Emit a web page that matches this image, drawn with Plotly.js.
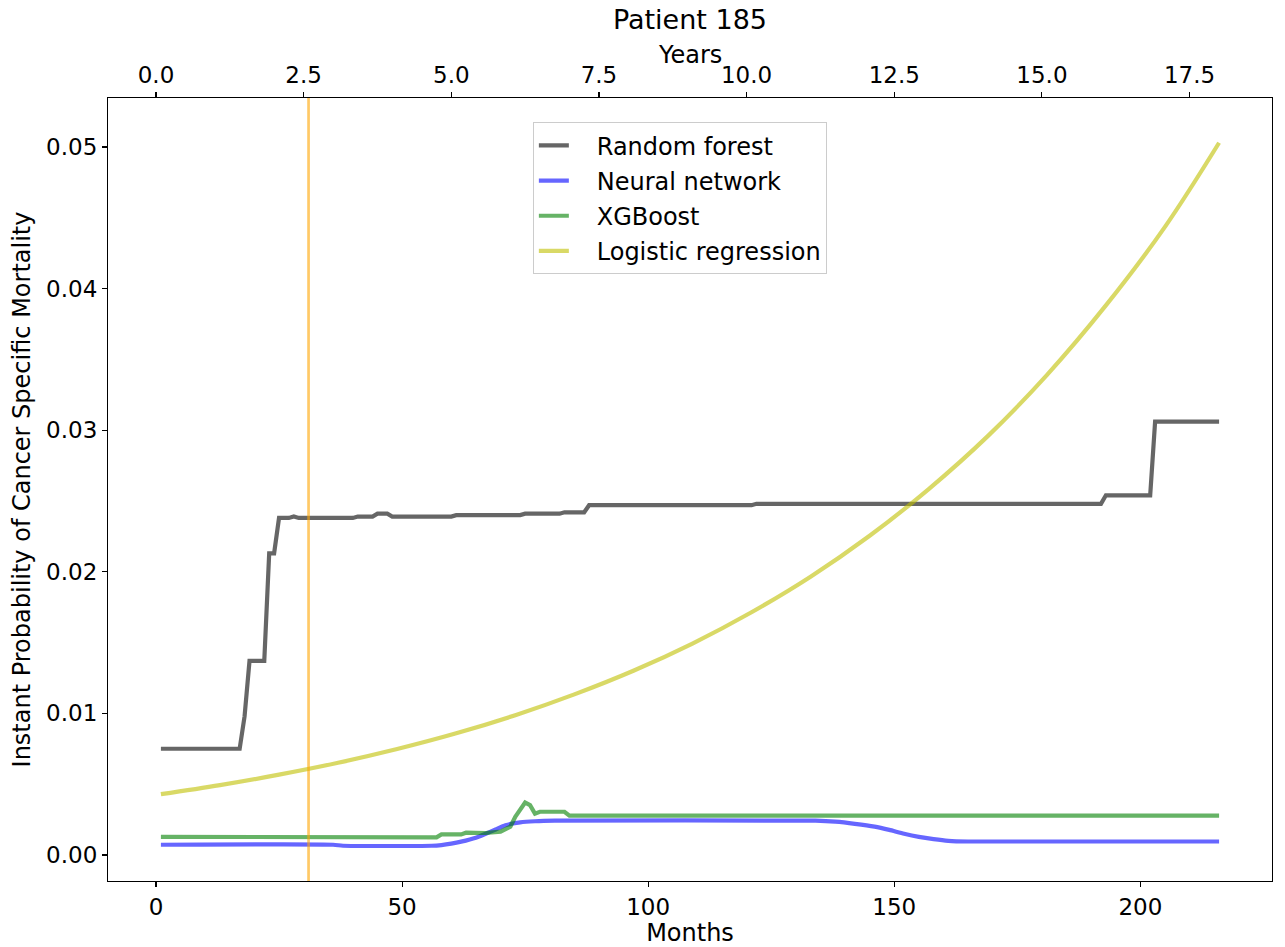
<!DOCTYPE html>
<html>
<head>
<meta charset="utf-8">
<script src="https://cdn.plot.ly/plotly-3.0.1.min.js"></script>
<style>html,body{margin:0;padding:0;background:#fff;}#chart{width:1285px;height:947px;}</style>
</head>
<body>
<div id="chart"></div>
<script>
// ---- data (months since diagnosis) ----
const rfMonths = [1, 17, 18, 19, 22, 23, 24, 25, 27, 28, 29, 40, 41, 44, 45, 47, 48, 60, 61, 74, 75, 82, 83, 87, 88, 121, 122, 192, 193, 202, 203, 216];
const rfValues = [0.0075, 0.0075, 0.0098, 0.0137, 0.0137, 0.0213, 0.0213, 0.0238, 0.0238, 0.0239, 0.0238, 0.0238, 0.0239, 0.0239, 0.0241, 0.0241, 0.0239, 0.0239, 0.0240, 0.0240, 0.0241, 0.0241, 0.0242, 0.0242, 0.0247, 0.0247, 0.0248, 0.0248, 0.0254, 0.0254, 0.0306, 0.0306];

const nnMonths = [1, 36, 38, 56, 58, 60, 62, 65, 67, 69, 71, 74, 77, 81, 134, 138, 142, 146, 149, 152, 155, 158, 161, 165, 216];
const nnValues = [0.00072, 0.00072, 0.00065, 0.00065, 0.00070, 0.00080, 0.00094, 0.00122, 0.00150, 0.00180, 0.00210, 0.00230, 0.00238, 0.00242, 0.00242, 0.00235, 0.00220, 0.00200, 0.00177, 0.00150, 0.00128, 0.00112, 0.00100, 0.00095, 0.00095];

const xgbMonths = [1, 48, 49, 57, 58, 62, 63, 67, 70, 72, 73, 75, 76, 77, 78, 83, 84, 216];
const xgbValues = [0.00128, 0.00128, 0.00124, 0.00124, 0.00145, 0.00145, 0.00157, 0.00155, 0.00165, 0.00200, 0.00270, 0.00370, 0.00352, 0.00292, 0.00305, 0.00305, 0.00278, 0.00278];

const lrMonths = [1, 13, 25, 37, 49, 61, 73, 85, 97, 109, 121, 133, 145, 157, 169, 181, 193, 205, 216];
const lrValues = [0.00429, 0.00493, 0.00567, 0.00651, 0.00748, 0.00859, 0.00987, 0.01134, 0.01301, 0.01493, 0.01714, 0.01965, 0.02254, 0.02584, 0.02958, 0.03389, 0.03881, 0.04436, 0.05030];

const eventMonth = [31];
const seriesNames = ["Random forest", "Neural network", "XGBoost", "Logistic regression"];
const yearTicks = [0, 2.5, 5, 7.5, 10, 12.5, 15, 17.5];
const monthTicks = [0, 50, 100, 150, 200];
const probTicks = [0, 0.01, 0.02, 0.03, 0.04, 0.05];

const FONT = "DejaVu Sans, sans-serif";
const TICK = 23, LABEL = 24;
const xr = [-9.75, 226.75];
const PAD = "\u00a0\u00a0\u00a0";

const traces = [
  {x: rfMonths, y: rfValues, name: PAD + seriesNames[0], legendgroup: "a", mode: "lines", line: {color: "rgba(0,0,0,0.6)", width: 4.2}},
  {x: nnMonths, y: nnValues, name: PAD + seriesNames[1], legendgroup: "b", mode: "lines", line: {color: "rgba(0,0,255,0.6)", width: 4.2, shape: "spline", smoothing: 0.6}},
  {x: xgbMonths, y: xgbValues, name: PAD + seriesNames[2], legendgroup: "c", mode: "lines", line: {color: "rgba(0,128,0,0.6)", width: 4.2}},
  {x: lrMonths, y: lrValues, name: PAD + seriesNames[3], legendgroup: "d", mode: "lines", line: {color: "rgba(191,191,0,0.6)", width: 4.2, shape: "spline"}},
  {x: [xr[0] / 12, xr[1] / 12], y: [0, 0], xaxis: "x2", yaxis: "y", mode: "lines", line: {color: "rgba(0,0,0,0)", width: 0}, showlegend: false, hoverinfo: "skip"}
];

const axisCommon = {
  showgrid: false, zeroline: false, showline: true, linecolor: "#000", linewidth: 1.1,
  ticks: "outside", ticklen: 5, tickwidth: 1.1, tickcolor: "#000",
  tickfont: {family: FONT, size: TICK, color: "#000"}
};

const layout = {
  width: 1285, height: 947,
  paper_bgcolor: "#fff", plot_bgcolor: "#fff",
  margin: {l: 108, r: 13, t: 98, b: 66},
  font: {family: FONT, color: "#000"},
  title: {text: "Patient 185", font: {family: FONT, size: 27, color: "#000"}, x: 0.5, xref: "paper", y: 0.979, yanchor: "middle"},
  xaxis: Object.assign({}, axisCommon, {
    range: xr, tickvals: monthTicks, ticktext: monthTicks.map(String),
    title: {text: "Months", font: {family: FONT, size: LABEL, color: "#000"}, standoff: 2}
  }),
  xaxis2: Object.assign({}, axisCommon, {
    overlaying: "x", side: "top", anchor: "y",
    range: [xr[0] / 12, xr[1] / 12], tickvals: yearTicks, ticktext: yearTicks.map(v => v.toFixed(1))
  }),
  yaxis: Object.assign({}, axisCommon, {
    range: [-0.00184, 0.05346], tickvals: probTicks, ticktext: probTicks.map(v => v.toFixed(2)),
    mirror: true,
    title: {text: "Instant Probability of Cancer Specific Mortality", font: {family: FONT, size: LABEL, color: "#000"}, standoff: 8}
  }),
  annotations: [{
    text: "Years", xref: "paper", yref: "paper", x: 0.5, y: 1.0555, xanchor: "center", yanchor: "middle",
    showarrow: false, font: {family: FONT, size: LABEL, color: "#000"}
  }],
  showlegend: true,
  legend: {
    x: 0.365, y: 0.969, xanchor: "left", yanchor: "top",
    bgcolor: "rgba(255,255,255,0.85)", bordercolor: "#cccccc", borderwidth: 1,
    font: {family: FONT, size: LABEL, color: "#000"}, tracegroupgap: 1
  },
  shapes: eventMonth.map(m => ({
    type: "line", xref: "x", yref: "paper", x0: m, x1: m, y0: 0, y1: 1,
    line: {color: "rgba(255,165,0,0.6)", width: 2.7}, layer: "above"
  }))
};

Plotly.newPlot("chart", traces, layout, {displayModeBar: false, staticPlot: true});
</script>
</body>
</html>
